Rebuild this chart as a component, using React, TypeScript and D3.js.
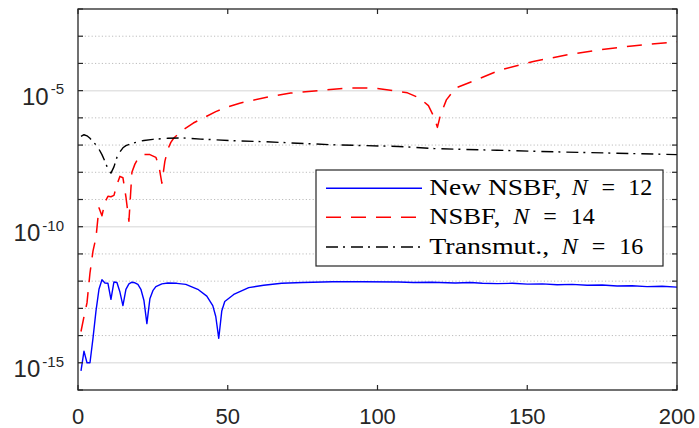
import React from "react";
import * as d3 from "d3";

// n (x) and log10(error) values
const blueN = [1, 2, 3, 4, 5, 6, 7, 8, 9, 10, 11, 12, 13, 14, 15, 16, 17, 18, 19, 20, 21, 22, 23, 24, 25, 26, 28, 30, 33, 36, 40, 43, 45, 46, 47, 48, 49, 52, 57, 62, 68, 75, 85, 95, 107, 112, 118, 126, 131, 135, 140, 145, 150, 155, 160, 165, 170, 175, 180, 185, 190, 195, 200];
const blueLog = [-15.3, -14.57, -15.0, -15.0, -14.1, -13.1, -12.3, -11.95, -12.07, -12.08, -12.67, -12.03, -12.05, -12.4, -12.9, -12.3, -12.1, -12.04, -12.06, -12.12, -12.3, -12.7, -13.56, -12.65, -12.35, -12.2, -12.1, -12.07, -12.08, -12.12, -12.3, -12.55, -12.9, -13.3, -14.1, -13.1, -12.75, -12.49, -12.24, -12.15, -12.08, -12.05, -12.02, -12.02, -12.03, -12.05, -12.04, -12.07, -12.05, -12.08, -12.09, -12.08, -12.11, -12.1, -12.13, -12.12, -12.15, -12.14, -12.18, -12.17, -12.2, -12.19, -12.22];

const redN = [1, 2, 3, 4, 5, 6, 7, 8, 9, 10, 11, 12, 13, 14, 15, 16, 17, 18, 19, 20, 22, 24, 26, 27, 28, 29, 30, 31, 32, 35, 38.5, 41, 46, 50, 54, 63, 71, 80, 89, 96, 100, 105, 110, 114, 117, 119, 120, 121, 123, 126, 133, 141, 152, 163, 174, 185, 200];
const redLog = [-13.85, -13.3, -12.8, -11.7, -10.9, -10.4, -9.3, -9.6, -9.1, -8.88, -8.9, -8.85, -8.45, -8.15, -8.2, -8.9, -9.8, -8.0, -7.7, -7.5, -7.35, -7.35, -7.45, -7.75, -8.4, -7.6, -7.15, -6.9, -6.74, -6.45, -6.19, -6.05, -5.77, -5.6, -5.46, -5.24, -5.09, -5.0, -4.91, -4.9, -4.92, -5.0, -5.08, -5.27, -5.55, -6.0, -6.35, -5.9, -5.34, -4.91, -4.6, -4.24, -3.93, -3.69, -3.5, -3.36, -3.2];

const blackN = [1, 2, 3, 4, 5, 6, 7, 8, 9, 10, 11, 12, 13, 14, 15, 16, 18, 20, 22, 25, 30, 35, 41, 54, 63, 85, 107, 119, 140, 160, 180, 200];
const blackLog = [-6.68, -6.62, -6.66, -6.75, -6.88, -6.99, -7.15, -7.35, -7.6, -7.88, -8.03, -7.8, -7.45, -7.25, -7.1, -7.02, -6.94, -6.88, -6.83, -6.79, -6.75, -6.74, -6.78, -6.85, -6.88, -6.99, -7.05, -7.13, -7.19, -7.25, -7.3, -7.35];

const xTicks = [0, 50, 100, 150, 200];
const yDecades = d3.range(-16, -1); // -16 .. -2
const yLabelExps = [-5, -10, -15];

const series = [
  { name: "New NSBF,", nLabel: "12", n: blueN, v: blueLog, color: "#0000ff", dash: "none", width: 1.4 },
  { name: "NSBF,", nLabel: "14", n: redN, v: redLog, color: "#ff0000", dash: "15,10", width: 1.5 },
  { name: "Transmut.,", nLabel: "16", n: blackN, v: blackLog, color: "#000000", dash: "12,5,2,6", width: 1.4 },
];

// legend text geometry (measured)
const legendLayout = [
  { w: 132, nx: 571.7, eqx: 601.5, numx: 628.3 },
  { w: 71, nx: 513.3, eqx: 543.3, numx: 570.7 },
  { w: 120, nx: 561.7, eqx: 591.7, numx: 619.3 },
];

export default function App() {
  const L = 78, R = 677, T = 9, B = 390;
  const x = d3.scaleLinear().domain([0, 200]).range([L, R]);
  const y = d3.scaleLog().domain([1e-16, 1e-2]).range([B, T]);
  const axisColor = "#262626";
  const sans = "'Liberation Sans', Arial, Helvetica, sans-serif";
  const serif = "'Liberation Serif', 'Times New Roman', serif";

  const line = d3
    .line<[number, number]>()
    .x((d) => x(d[0]))
    .y((d) => y(Math.pow(10, d[1])));

  const legX = 316, legY = 170, legW = 347, legH = 96;
  const rowY = [188.3, 217.3, 247];

  return (
    <svg width={699} height={428} style={{ position: "absolute", left: 0, top: 0, background: "#fff" }}>
      <rect x={0} y={0} width={699} height={428} fill="#fff" />
      {/* grid */}
      {yDecades.map((e) => {
        const yy = y(Math.pow(10, e));
        if (e === -16 || e === -2) return null;
        const major = e % 5 === 0;
        return major ? (
          <line key={e} x1={L} x2={R} y1={yy} y2={yy} stroke="#e3e3e3" strokeWidth={1.5} />
        ) : (
          <line key={e} x1={L} x2={R} y1={yy} y2={yy} stroke="#bdbdbd" strokeWidth={1} strokeDasharray="1.2,2.2" />
        );
      })}
      <defs>
        <clipPath id="plotclip">
          <rect x={L} y={T} width={R - L} height={B - T} />
        </clipPath>
      </defs>
      {/* series */}
      <g clipPath="url(#plotclip)">
        {series.map((s, i) => (
          <path
            key={i}
            d={line(s.n.map((n, j) => [n, s.v[j]] as [number, number])) || ""}
            fill="none"
            stroke={s.color}
            strokeWidth={s.width}
            strokeDasharray={s.dash}
            strokeLinejoin="round"
          />
        ))}
      </g>
      {/* axes box */}
      <rect x={L} y={T} width={R - L} height={B - T} fill="none" stroke={axisColor} strokeWidth={1.3} />
      {/* y ticks */}
      {yDecades.map((e) => {
        const yy = y(Math.pow(10, e));
        return (
          <g key={"yt" + e}>
            <line x1={L} x2={L + 5} y1={yy} y2={yy} stroke={axisColor} strokeWidth={1.2} />
            <line x1={R} x2={R - 5} y1={yy} y2={yy} stroke={axisColor} strokeWidth={1.2} />
          </g>
        );
      })}
      {/* x ticks */}
      {xTicks.map((t) => (
        <g key={"xt" + t}>
          <line x1={x(t)} x2={x(t)} y1={B} y2={B - 5} stroke={axisColor} strokeWidth={1.2} />
          <line x1={x(t)} x2={x(t)} y1={T} y2={T + 5} stroke={axisColor} strokeWidth={1.2} />
          <text x={x(t)} y={424} textAnchor="middle" fontFamily={sans} fontSize={22} fill={axisColor}>
            {t}
          </text>
        </g>
      ))}
      {/* y labels */}
      {yLabelExps.map((e) => {
        const yy = y(Math.pow(10, e));
        return (
          <text key={"yl" + e} x={64} y={yy + 14.3} textAnchor="end" fontFamily={sans} fontSize={24} fill={axisColor}>
            10
            <tspan dx={2} dy={-10.5} fontSize={15}>
              {String(e)}
            </tspan>
          </text>
        );
      })}
      {/* legend */}
      <rect x={legX} y={legY} width={legW} height={legH} fill="#fff" stroke={axisColor} strokeWidth={1.2} />
      {series.map((s, i) => {
        const lay = legendLayout[i];
        const ry = rowY[i];
        const by = ry + 6.5;
        return (
          <g key={"lg" + i}>
            <line x1={326} x2={422} y1={ry} y2={ry} stroke={s.color} strokeWidth={s.width} strokeDasharray={s.dash} />
            <text x={429.3} y={by} fontFamily={serif} fontSize={24} fill="#000" textLength={lay.w} lengthAdjust="spacingAndGlyphs">
              {s.name}
            </text>
            <text x={lay.nx} y={by} fontFamily={serif} fontSize={24} fontStyle="italic" fill="#000">
              N
            </text>
            <text x={lay.eqx} y={by} fontFamily={serif} fontSize={24} fill="#000">
              =
            </text>
            <text x={lay.numx} y={by} fontFamily={serif} fontSize={24} fill="#000">
              {s.nLabel}
            </text>
          </g>
        );
      })}
    </svg>
  );
}
